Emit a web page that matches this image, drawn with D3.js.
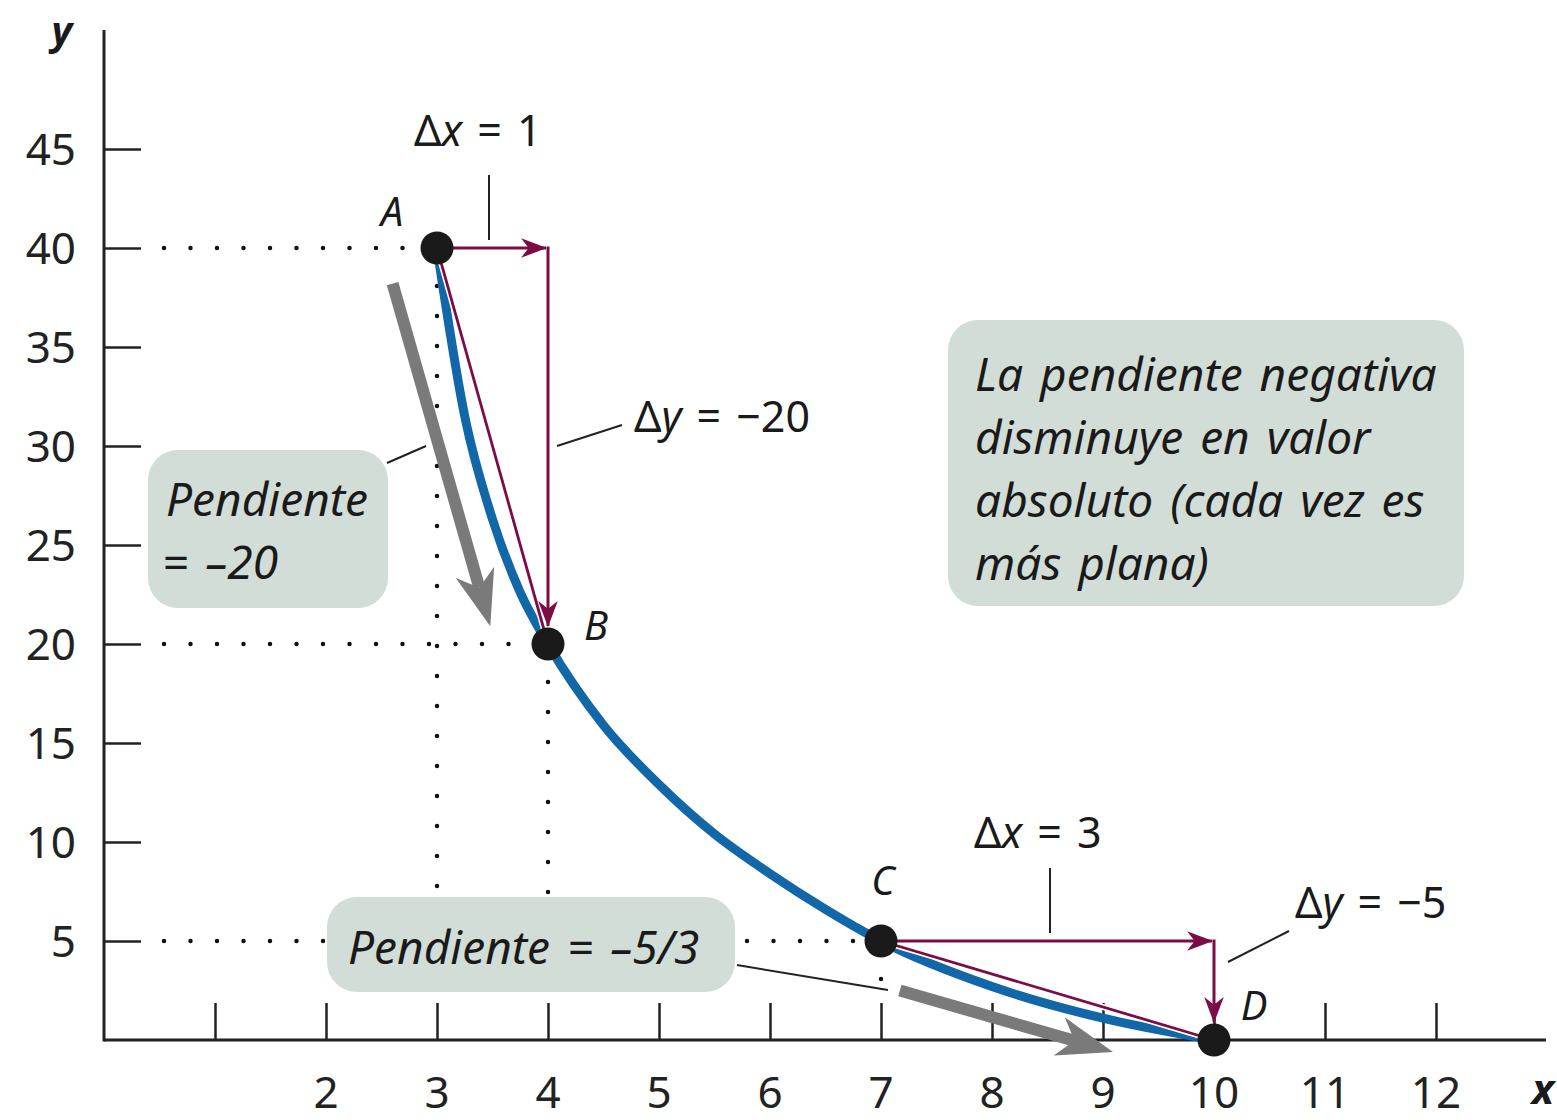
<!DOCTYPE html>
<html>
<head>
<meta charset="utf-8">
<script src="https://cdn.jsdelivr.net/npm/d3@7"></script>
<style>
  body { margin: 0; background: #fff; }
  svg { display: block; font-family: "Noto Sans", sans-serif; }
  .tick-label { font-size: 44px; fill: #222; }
  .note { font-size: 46px; font-style: italic; fill: #1a1a1a; word-spacing: 5px; }
  .delta { font-size: 43px; fill: #1a1a1a; }
  .pt-label { font-size: 40px; font-style: italic; fill: #1a1a1a; }
</style>
</head>
<body>
<svg width="1557" height="1120"></svg>
<script>
// data
const xTicks = [1, 2, 3, 4, 5, 6, 7, 8, 9, 10, 11, 12];
const xTickLabels = [2, 3, 4, 5, 6, 7, 8, 9, 10, 11, 12];
const yTicks = [5, 10, 15, 20, 25, 30, 35, 40, 45];

const curveX = [3, 3.25, 3.5, 3.75, 4, 4.5, 5, 5.5, 6, 6.5, 7, 8, 9, 10];
const curveY = [40, 31.5, 26.3, 22.6, 20.0, 15.9, 12.9, 10.4, 8.4, 6.6, 5.0, 2.7, 1.1, 0];

const pointNames = ["A", "B", "C", "D"];
const pointX = [3, 4, 7, 10];
const pointY = [40, 20, 5, 0];

// the two slope steps: from point i to point j
const steps = [
  { from: 0, to: 1, dx: "1", dy: "\u221220" },
  { from: 2, to: 3, dx: "3", dy: "\u22125" }
];

// gray direction arrows (start, tip) in data units
const trendArrows = [
  [[2.6, 38.2], [3.48, 20.9]],
  [[7.17, 2.5], [9.09, -0.6]]
];

const boxNote = ["La pendiente negativa", "disminuye en valor", "absoluto (cada vez es", "m\u00e1s plana)"];

const svg = d3.select("svg");

const x = d3.scaleLinear().domain([0, 13]).range([104, 1547]);
const y = d3.scaleLinear().domain([0, 50]).range([1040, 50]);

const ink = "#222";
const magenta = "#7b0c45";
const blue = "#1167a7";
const boxFill = "#d3ddd7";
const gray = "#7a7a7a";

const defs = svg.append("defs");
defs.append("marker")
  .attr("id", "mag-head")
  .attr("viewBox", "0 0 24 20")
  .attr("refX", 23).attr("refY", 10)
  .attr("markerWidth", 26).attr("markerHeight", 22)
  .attr("markerUnits", "userSpaceOnUse")
  .attr("orient", "auto")
  .append("path")
  .attr("d", "M0,1 L24,10 L0,19 L7,10 Z")
  .attr("fill", magenta);

// gray head: 56 long, 40 wide, notch 16 back from the base
const headLen = 56, headNotch = 16;
defs.append("marker")
  .attr("id", "gray-head")
  .attr("viewBox", `0 0 ${headLen} 40`)
  .attr("refX", headNotch).attr("refY", 20)
  .attr("markerWidth", headLen).attr("markerHeight", 40)
  .attr("markerUnits", "userSpaceOnUse")
  .attr("orient", "auto")
  .append("path")
  .attr("d", `M0,0 L${headLen},20 L0,40 L${headNotch},20 Z`)
  .attr("fill", gray);

// dotted guide lines
const guides = svg.append("g")
  .attr("stroke", "#111")
  .attr("stroke-width", 4.5)
  .attr("stroke-linecap", "round")
  .attr("fill", "none");

pointNames.forEach((n, i) => {
  if (pointY[i] === 0) return;
  guides.append("line")
    .attr("x1", x(0) + 60).attr("x2", x(pointX[i]) - 18)
    .attr("y1", y(pointY[i])).attr("y2", y(pointY[i]))
    .attr("stroke-dasharray", "0,26.5");
  guides.append("line")
    .attr("x1", x(pointX[i])).attr("x2", x(pointX[i]))
    .attr("y1", y(pointY[i]) + 38).attr("y2", y(0) - 38)
    .attr("stroke-dasharray", "0,30");
});

// axes
const xAxis = d3.axisTop(x).tickValues(xTicks).tickSize(37).tickFormat("");
const yAxis = d3.axisRight(y).tickValues(yTicks).tickSize(37).tickFormat("");

const gx = svg.append("g").attr("transform", `translate(0,${y(0)})`).call(xAxis);
const gy = svg.append("g").attr("transform", `translate(${x(0)},0)`).call(yAxis);
[gx, gy].forEach(g => {
  g.select(".domain").remove();
  g.selectAll(".tick line").attr("stroke", ink).attr("stroke-width", 2.5);
});
svg.append("line")
  .attr("x1", x(0)).attr("x2", 1546).attr("y1", y(0)).attr("y2", y(0))
  .attr("stroke", ink).attr("stroke-width", 3);
svg.append("line")
  .attr("x1", x(0)).attr("x2", x(0)).attr("y1", 30).attr("y2", y(0) + 1.5)
  .attr("stroke", ink).attr("stroke-width", 3);

svg.append("g").selectAll("text")
  .data(xTickLabels).join("text")
  .attr("class", "tick-label")
  .attr("x", d => x(d)).attr("y", 1108)
  .attr("text-anchor", "middle")
  .text(d => d);

svg.append("g").selectAll("text")
  .data(yTicks).join("text")
  .attr("class", "tick-label")
  .attr("x", 76).attr("y", d => y(d) + 16)
  .attr("text-anchor", "end")
  .text(d => d);

svg.append("text").attr("x", 62).attr("y", 45)
  .attr("text-anchor", "middle")
  .style("font-size", "40px").style("font-style", "italic").style("font-weight", "bold")
  .attr("fill", "#1a1a1a").text("y");
svg.append("text").attr("x", 1543).attr("y", 1104)
  .attr("text-anchor", "middle")
  .style("font-size", "42px").style("font-style", "italic").style("font-weight", "bold")
  .attr("fill", "#1a1a1a").text("x");

// note boxes
function roundBox(x0, y0, w, h) {
  return svg.append("rect")
    .attr("x", x0).attr("y", y0).attr("width", w).attr("height", h)
    .attr("rx", 30).attr("ry", 30)
    .attr("fill", boxFill);
}

roundBox(148, 450, 240, 158);
svg.append("text").attr("class", "note").attr("x", 166).attr("y", 516).text("Pendiente");
svg.append("text").attr("class", "note").attr("x", 162).attr("y", 579).text("= \u201320");

roundBox(327, 897, 408, 95);
svg.append("text").attr("class", "note").attr("x", 348).attr("y", 964).text("Pendiente = \u20135/3");

roundBox(948, 320, 516, 286);
svg.append("g").selectAll("text")
  .data(boxNote).join("text")
  .attr("class", "note")
  .attr("x", 975).attr("y", (d, i) => 391 + i * 63)
  .text(d => d);

// leader lines
const leaders = [
  [387, 463, 426, 446],
  [737, 965, 888, 990],
  [489, 175, 489, 240],
  [557, 446, 622, 425],
  [1050, 868, 1050, 933],
  [1228, 962, 1289, 931]
];
svg.append("g").selectAll("line")
  .data(leaders).join("line")
  .attr("x1", d => d[0]).attr("y1", d => d[1])
  .attr("x2", d => d[2]).attr("y2", d => d[3])
  .attr("stroke", ink).attr("stroke-width", 2);

// gray trend arrows: shaft stops at the notch of the head
trendArrows.forEach(([s, t]) => {
  const x1 = x(s[0]), y1 = y(s[1]), x2 = x(t[0]), y2 = y(t[1]);
  const len = Math.hypot(x2 - x1, y2 - y1);
  const k = (len - (headLen - headNotch)) / len;
  svg.append("line")
    .attr("x1", x1).attr("y1", y1)
    .attr("x2", x1 + (x2 - x1) * k).attr("y2", y1 + (y2 - y1) * k)
    .attr("stroke", gray).attr("stroke-width", 12)
    .attr("marker-end", "url(#gray-head)");
});

// blue curve
const curvePts = curveX.map((v, i) => [v, curveY[i]]);
svg.append("path")
  .datum(curvePts)
  .attr("d", d3.line().x(d => x(d[0])).y(d => y(d[1])).curve(d3.curveMonotoneX))
  .attr("fill", "none")
  .attr("stroke", blue)
  .attr("stroke-width", 9);

// slope steps: chord, run and rise
steps.forEach(s => {
  const x1 = x(pointX[s.from]), y1 = y(pointY[s.from]);
  const x2 = x(pointX[s.to]), y2 = y(pointY[s.to]);
  svg.append("line")
    .attr("x1", x1).attr("y1", y1).attr("x2", x2).attr("y2", y2)
    .attr("stroke", "#fff").attr("stroke-width", 6);
  svg.append("line")
    .attr("x1", x1).attr("y1", y1).attr("x2", x2).attr("y2", y2)
    .attr("stroke", magenta).attr("stroke-width", 2.8);
  svg.append("line")
    .attr("x1", x1).attr("y1", y1).attr("x2", x2 - 2).attr("y2", y1)
    .attr("stroke", magenta).attr("stroke-width", 3)
    .attr("marker-end", "url(#mag-head)");
  svg.append("line")
    .attr("x1", x2).attr("y1", y1 - 1.5).attr("x2", x2).attr("y2", y2 - 18)
    .attr("stroke", magenta).attr("stroke-width", 3)
    .attr("marker-end", "url(#mag-head)");
});

// points
svg.append("g").selectAll("circle")
  .data(pointNames).join("circle")
  .attr("cx", (d, i) => x(pointX[i]))
  .attr("cy", (d, i) => y(pointY[i]))
  .attr("r", 16.5)
  .attr("fill", "#1a1a1a");

const labelOffsets = [[-45, -22], [48, -4], [2, -46], [40, -20]];
svg.append("g").selectAll("text")
  .data(pointNames).join("text")
  .attr("class", "pt-label")
  .attr("x", (d, i) => x(pointX[i]) + labelOffsets[i][0])
  .attr("y", (d, i) => y(pointY[i]) + labelOffsets[i][1])
  .attr("text-anchor", "middle")
  .text(d => d);

// delta labels
function deltaLabel(px, py, v, val) {
  const t = svg.append("text").attr("class", "delta").attr("x", px).attr("y", py);
  t.append("tspan").text("\u0394");
  t.append("tspan").style("font-style", "italic").text(v);
  t.append("tspan").attr("dx", 15).text("=");
  t.append("tspan").attr("dx", 15).text(val);
}
deltaLabel(414, 146, "x", steps[0].dx);
deltaLabel(634, 432, "y", steps[0].dy);
deltaLabel(974, 848, "x", steps[1].dx);
deltaLabel(1295, 918, "y", steps[1].dy);
</script>
</body>
</html>
